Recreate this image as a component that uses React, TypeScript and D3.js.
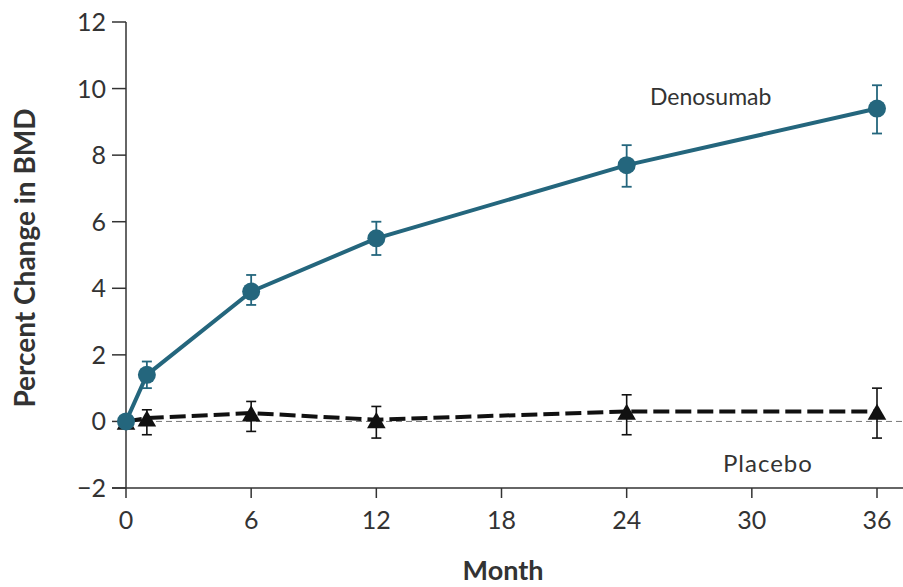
import React from "react";
import * as d3 from "d3";

const months = [0, 1, 6, 12, 24, 36];
const denosumab = [0, 1.4, 3.9, 5.5, 7.7, 9.4];
const denosumabLow = [0, 1.0, 3.5, 5.0, 7.05, 8.65];
const denosumabHigh = [0, 1.8, 4.4, 6.0, 8.3, 10.1];
const placebo = [0, 0.1, 0.25, 0.05, 0.3, 0.3];
const placeboLow = [0, -0.4, -0.3, -0.5, -0.4, -0.5];
const placeboHigh = [0, 0.35, 0.6, 0.45, 0.8, 1.0];
const xTicks = [0, 6, 12, 18, 24, 30, 36];
const yTicks = [-2, 0, 2, 4, 6, 8, 10, 12];

const W = 903;
const H = 587;
const TEAL = "#24667d";
const TEXT = "#333";
const FONT = "Lato, 'Open Sans', sans-serif";

export default function App() {
  const x = d3.scaleLinear().domain([0, 36]).range([126, 877]);
  const y = d3.scaleLinear().domain([-2, 12]).range([488, 22]);
  const line = d3
    .line<number>()
    .x((_, i) => x(months[i]))
    .y((d) => y(d));
  const tri = d3.symbol(d3.symbolTriangle, 150)();
  const pts = months.map((m, i) => i);

  return (
    <svg
      width={W}
      height={H}
      style={{ position: "absolute", left: 0, top: 0, background: "#fff" }}
      fontFamily={FONT}
    >
      {/* zero reference */}
      <line
        x1={x(0)}
        x2={W}
        y1={y(0)}
        y2={y(0)}
        stroke="#777"
        strokeWidth={1}
        strokeDasharray="6 4"
      />
      {/* axes */}
      <line x1={x(0)} x2={x(0)} y1={y(12)} y2={y(-2)} stroke={TEXT} strokeWidth={1.5} />
      <line x1={112} x2={W} y1={y(-2)} y2={y(-2)} stroke={TEXT} strokeWidth={1.5} />
      {yTicks.map((t) => (
        <g key={"y" + t}>
          <line x1={112} x2={x(0)} y1={y(t)} y2={y(t)} stroke={TEXT} strokeWidth={1.5} />
          <text
            x={106}
            y={y(t)}
            dy="0.36em"
            textAnchor="end"
            fontSize={25}
            fill={TEXT}
          >
            {t < 0 ? "\u2212" + Math.abs(t) : t}
          </text>
        </g>
      ))}
      {xTicks.map((t) => (
        <g key={"x" + t}>
          <line x1={x(t)} x2={x(t)} y1={y(-2)} y2={y(-2) + 10} stroke={TEXT} strokeWidth={1.5} />
          <text x={x(t)} y={529} textAnchor="middle" fontSize={25} fill={TEXT}>
            {t}
          </text>
        </g>
      ))}
      <text x={503} y={580} textAnchor="middle" fontSize={27} fontWeight="bold" fill={TEXT}>
        Month
      </text>
      <text
        transform={`translate(35,258) rotate(-90)`}
        textAnchor="middle"
        fontSize={28}
        fontWeight="bold"
        fill={TEXT}
      >
        Percent Change in BMD
      </text>

      {/* placebo */}
      <path
        d={line(placebo) || ""}
        fill="none"
        stroke="#111"
        strokeWidth={4}
        strokeDasharray="16 6"
      />
      {pts.slice(1).map((i) => (
        <g key={"pe" + i} stroke="#111" strokeWidth={1.6}>
          <line x1={x(months[i])} x2={x(months[i])} y1={y(placeboLow[i])} y2={y(placeboHigh[i])} />
          <line x1={x(months[i]) - 5} x2={x(months[i]) + 5} y1={y(placeboLow[i])} y2={y(placeboLow[i])} />
          <line x1={x(months[i]) - 5} x2={x(months[i]) + 5} y1={y(placeboHigh[i])} y2={y(placeboHigh[i])} />
        </g>
      ))}
      {pts.map((i) => (
        <path
          key={"pt" + i}
          d={tri || ""}
          transform={`translate(${x(months[i])},${y(placebo[i]) + 3})`}
          fill="#111"
        />
      ))}

      {/* denosumab */}
      <path d={line(denosumab) || ""} fill="none" stroke={TEAL} strokeWidth={4} />
      {pts.slice(1).map((i) => (
        <g key={"de" + i} stroke={TEAL} strokeWidth={1.8}>
          <line x1={x(months[i])} x2={x(months[i])} y1={y(denosumabLow[i])} y2={y(denosumabHigh[i])} />
          <line x1={x(months[i]) - 5} x2={x(months[i]) + 5} y1={y(denosumabLow[i])} y2={y(denosumabLow[i])} />
          <line x1={x(months[i]) - 5} x2={x(months[i]) + 5} y1={y(denosumabHigh[i])} y2={y(denosumabHigh[i])} />
        </g>
      ))}
      {pts.map((i) => (
        <circle key={"dc" + i} cx={x(months[i])} cy={y(denosumab[i])} r={9} fill={TEAL} />
      ))}

      <text x={650} y={105} fontSize={23} fill={TEXT}>
        Denosumab
      </text>
      <text x={723} y={472} fontSize={24} letterSpacing={1} fill={TEXT}>
        Placebo
      </text>
    </svg>
  );
}
